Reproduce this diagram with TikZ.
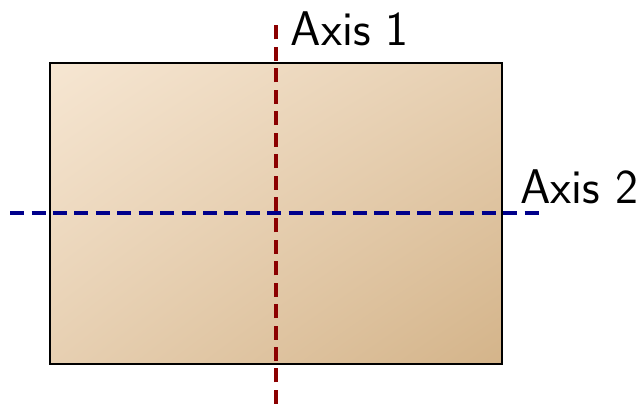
\documentclass[tikz,border=0pt]{standalone}
\usepackage{tikz}
\usetikzlibrary{positioning,calc,shadings}
\definecolor{axisRed}{RGB}{139,0,0}
\definecolor{axisNavy}{RGB}{0,0,139}
\definecolor{sheetLight}{RGB}{246,230,210}
\definecolor{sheetDark}{RGB}{212,180,138}

\begin{document}
\begin{tikzpicture}[
    every node/.style={font=\fontsize{18.4}{22}\selectfont\sffamily, inner sep=0pt},
    axisline/.style={line width=1.5pt, dash pattern=on 5.3pt off 2.8pt}
  ]
    \useasboundingbox (-0.664,-0.531) rectangle (7.876,4.834);
    % Sheet
    \shade[upper left=sheetLight, lower right=sheetDark, upper right=sheetLight!55!sheetDark,
      lower left=sheetLight!55!sheetDark] (0,0) rectangle (6,4);
    \draw[thick] (0,0) rectangle (6,4);
    % Axis ends
    \coordinate (a1s) at (3,-0.53);
    \coordinate (a1e) at (3,4.53);
    \coordinate (a2s) at (-0.53,2);
    \coordinate (a2e) at (6.53,2);
    \draw[axisline, axisRed] (a1s) -- (a1e);
    \draw[axisline, axisNavy] (a2s) -- (a2e);
    % Labels
    \node[anchor=west] (lab1) at (3.19,4.45) {Axis 1};
    \node[anchor=west] (lab2) at (6.24,2.35) {Axis 2};
\end{tikzpicture}
\end{document}
